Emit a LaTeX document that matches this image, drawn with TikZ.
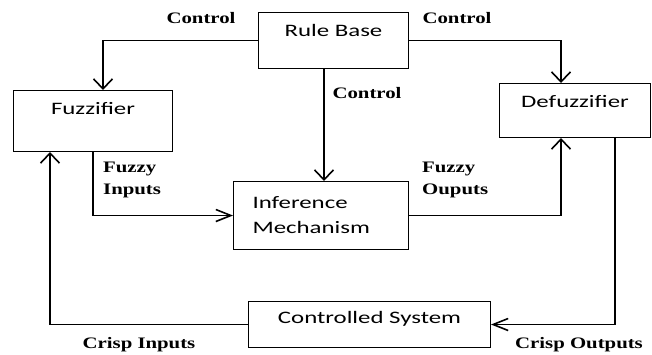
\documentclass[tikz,border=0pt]{standalone}
\usepackage{fontspec}
\usepackage{tikz}
\usetikzlibrary{positioning, arrows.meta}
\newfontfamily\boxfont{Carlito}[FakeStretch=1.42]
\newfontfamily\tagfont{Liberation Serif}[FakeStretch=1.3]

\tikzset{
  block/.style={draw, line width=1pt, inner sep=0pt, anchor=north west,
                font=\boxfont\fontsize{17.5}{25}\selectfont},
  flow/.style={line width=1.8pt},
  vflow/.style={flow, -{Straight Barb[length=10pt, width=19pt, line width=1.6pt]}},
  hflow/.style={flow, -{Straight Barb[length=15pt, width=12pt, line width=1.6pt]}},
  tag/.style={inner sep=0pt, font=\tagfont\bfseries\fontsize{16}{22}\selectfont}
}

\begin{document}
\begin{tikzpicture}[x=1pt, y=-1pt]
    \useasboundingbox (0,0) rectangle (652,354);

    \node[block, minimum width=150pt, text height=24pt, text depth=32pt] (rule) at (258,12) {Rule Base};
    \node[block, minimum width=159pt, text height=24pt, text depth=37pt] (fuzz) at (13,90) {Fuzzifier};
    \node[block, minimum width=151pt, text height=24pt, text depth=30pt] (defuzz) at (499,83) {Defuzzifier};
    \node[block, minimum height=68pt, text width=137pt, inner xsep=19pt, align=left] (infer) at (233,181) {Inference\\Mechanism};
    \node[block, minimum width=242pt, text height=22pt, text depth=24pt] (plant) at (248,301) {Controlled System};

    \draw[vflow] (rule.west) -| ([xshift=10pt]fuzz.north);
    \draw[vflow] (rule.east) -| ([xshift=-14pt]defuzz.north);
    \draw[vflow] ([xshift=3pt]infer.north |- rule.south) -- ([xshift=3pt]infer.north);
    \draw[hflow] (fuzz.south) |- (infer.west);
    \draw[vflow] (infer.east) -| ([xshift=-14pt]defuzz.south);
    \draw[hflow] ([xshift=40pt]defuzz.south) |- (plant.east);
    \draw[vflow] (plant.west) -| ([xshift=-43pt]fuzz.south);

    \node[tag, anchor=base] (ctrlL) at (201,23) {Control};
    \node[tag, anchor=base] (ctrlR) at (457,23) {Control};
    \node[tag, anchor=base] (ctrlM) at (367,98) {Control};
    \node[tag, anchor=north west, align=left] (fzin) at (103,162) {Fuzzy\\Inputs};
    \node[tag, anchor=north west, align=left] (fzout) at (422,162) {Fuzzy\\Ouputs};
    \node[tag, anchor=base] (crin) at (139,348) {Crisp Inputs};
    \node[tag, anchor=base] (crout) at (579,348) {Crisp Outputs};
\end{tikzpicture}
\end{document}
